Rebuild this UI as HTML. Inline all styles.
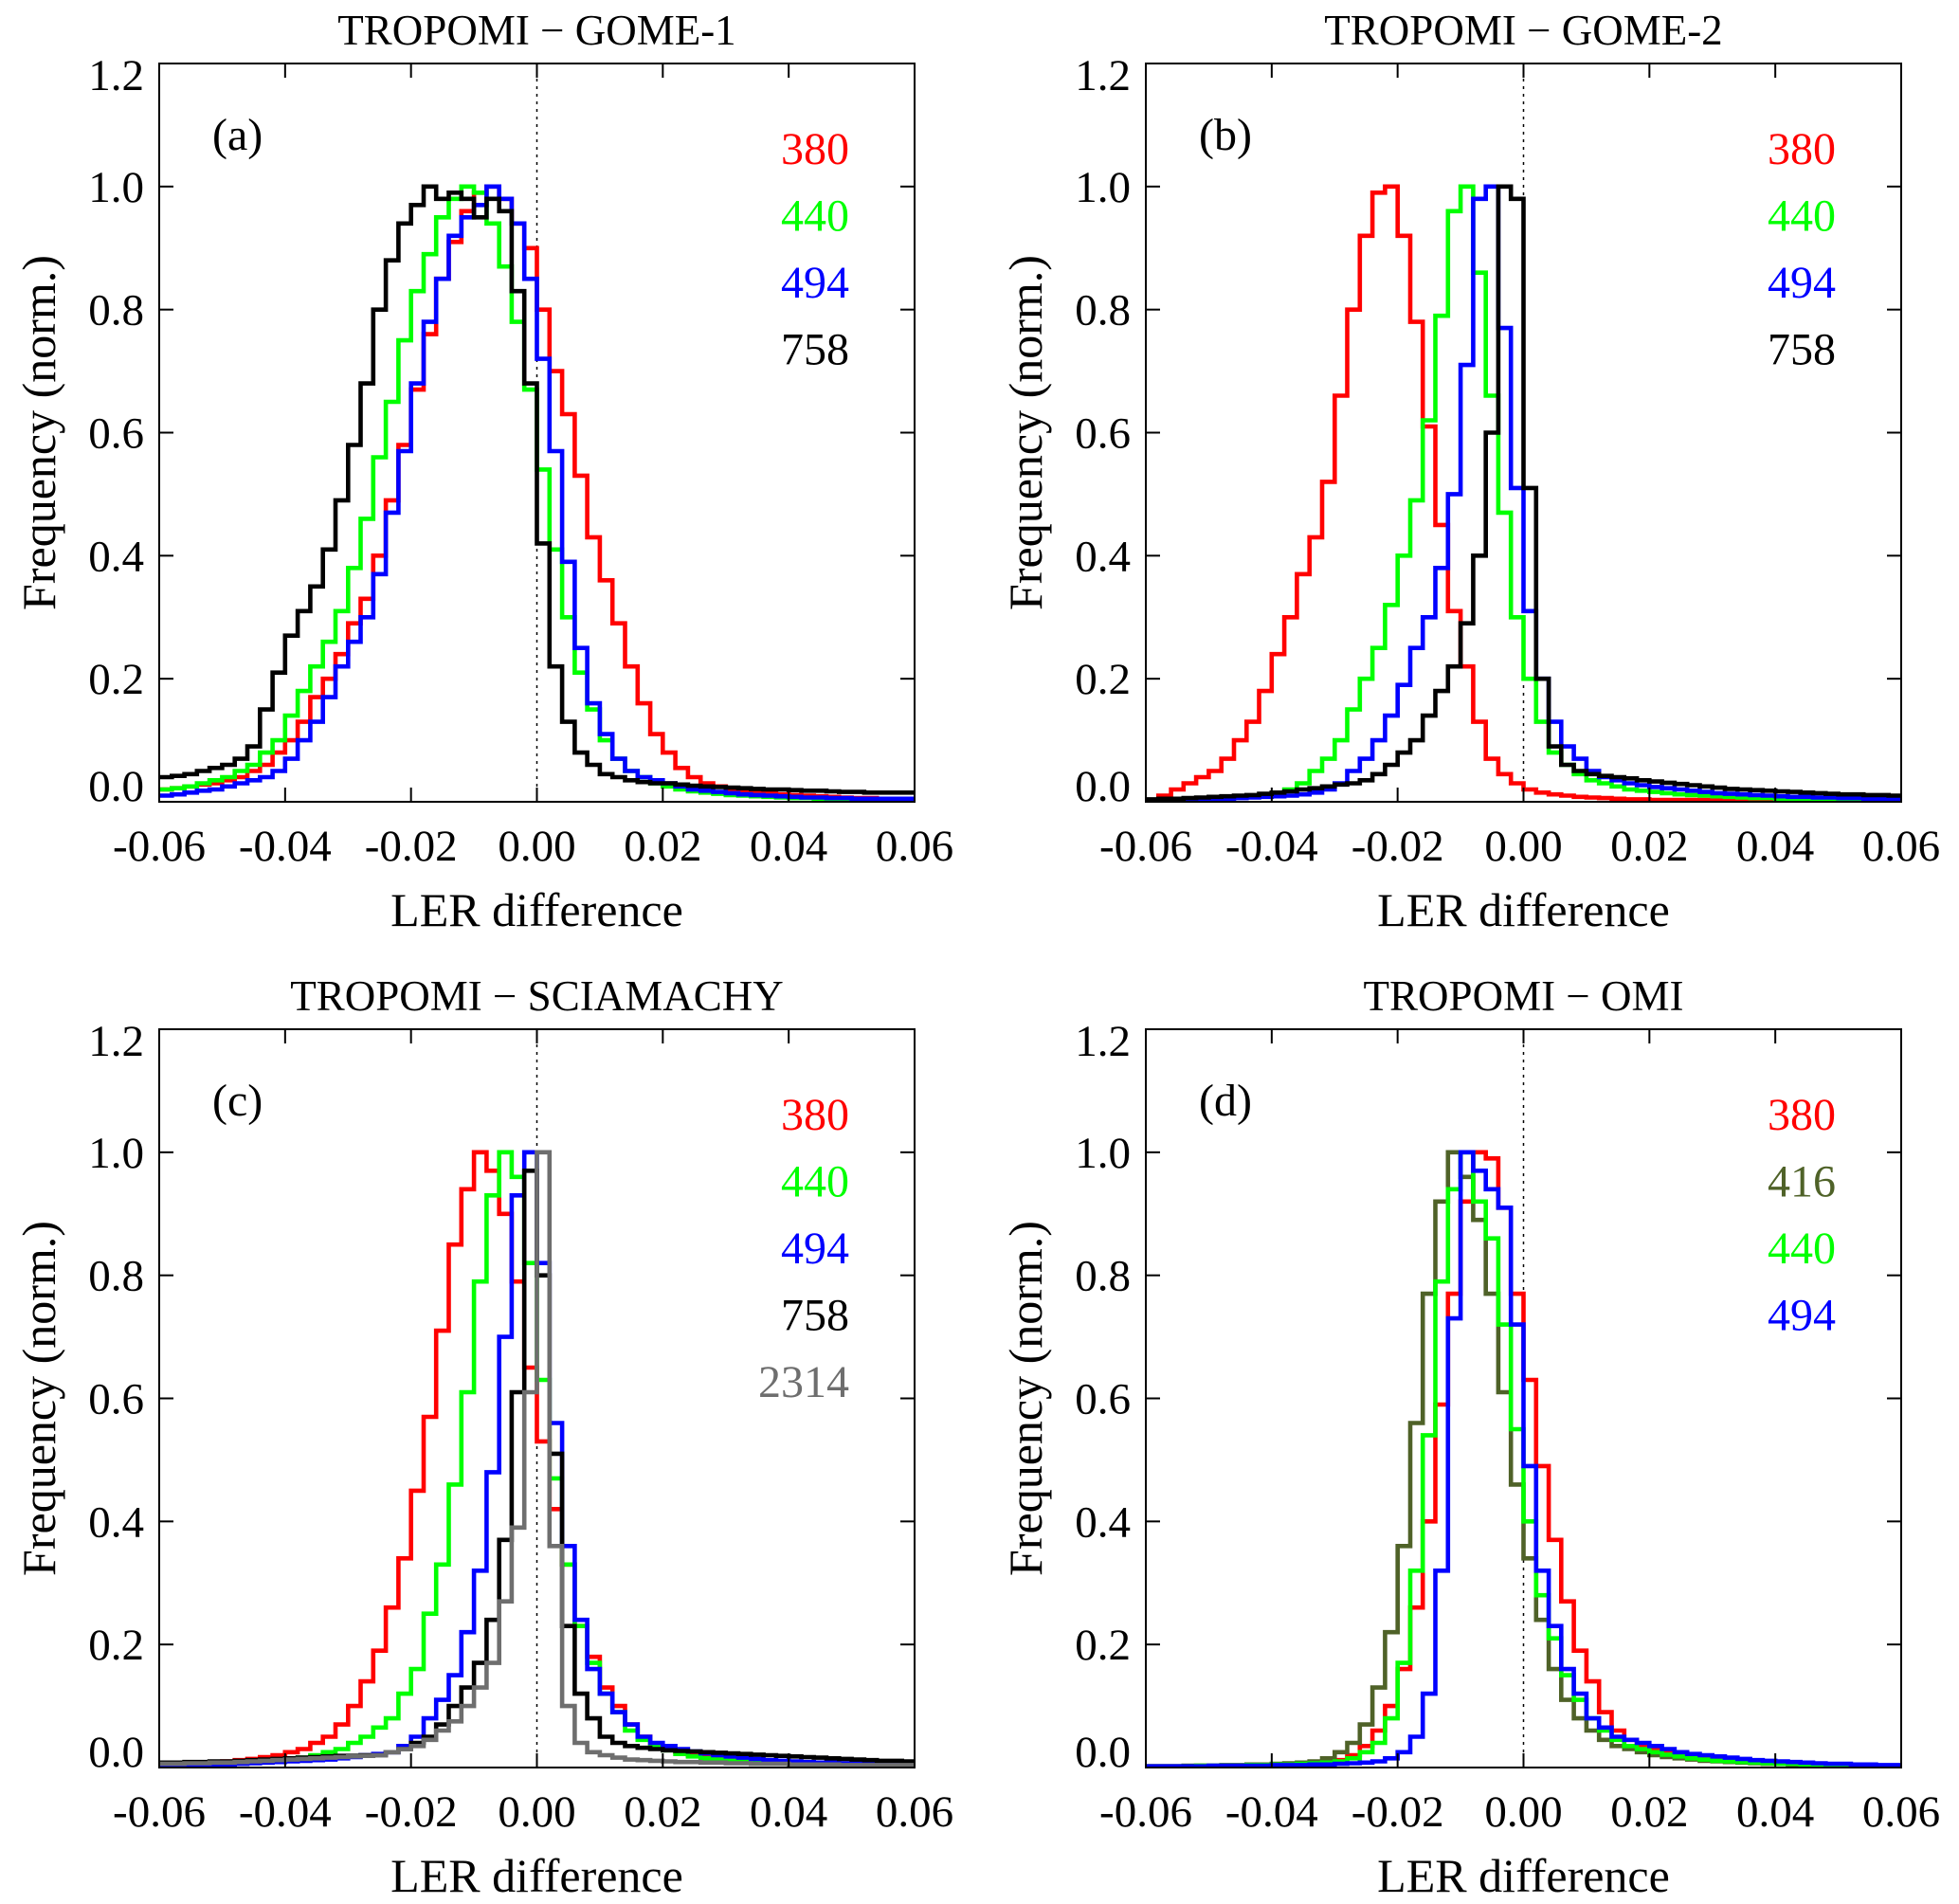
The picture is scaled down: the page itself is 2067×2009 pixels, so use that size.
<!DOCTYPE html>
<html>
<head>
<meta charset="utf-8">
<style>
  html,body{margin:0;padding:0;background:#fff;}
  svg{display:block;}
  svg text{font-family:"Liberation Serif","Times New Roman",serif;}
</style>
</head>
<body>
<svg id="fig" width="2067" height="2009" viewBox="0 0 2067 2009" font-family="Liberation Serif, serif" xmlns="http://www.w3.org/2000/svg"></svg>
<script>
// ---- data: normalized frequency per 0.002 bin from -0.06 to 0.06 (60 bins) ----
const xTicks = [-0.06,-0.04,-0.02,0.00,0.02,0.04,0.06];
const xTickLabels = ["-0.06","-0.04","-0.02","0.00","0.02","0.04","0.06"];
const yTicks = [0,0.2,0.4,0.6,0.8,1.0,1.2];
const yTickLabels = ["0.0","0.2","0.4","0.6","0.8","1.0","1.2"];
const binStart = -0.06;
const binWidth = 0.002;

const titles = ["TROPOMI \u2212 GOME-1","TROPOMI \u2212 GOME-2","TROPOMI \u2212 SCIAMACHY","TROPOMI \u2212 OMI"];
const panelTags = ["(a)","(b)","(c)","(d)"];

const aLabels = ["380","440","494","758"];
const bLabels = ["380","440","494","758"];
const cLabels = ["380","440","494","758","2314"];
const dLabels = ["380","416","440","494"];

const a380 = [0.02,0.022,0.025,0.028,0.03,0.035,0.04,0.05,0.06,0.08, 0.10,0.13,0.17,0.20,0.24,0.29,0.33,0.40,0.49,0.58, 0.67,0.76,0.85,0.91,0.96,0.99,1.0,0.98,0.94,0.90, 0.80,0.70,0.63,0.53,0.43,0.36,0.29,0.22,0.16,0.11, 0.08,0.055,0.04,0.03,0.025,0.02,0.018,0.016,0.014,0.012, 0.011,0.01,0.009,0.008,0.007,0.006,0.006,0.005,0.005,0.005];
const a440 = [0.02,0.022,0.025,0.03,0.035,0.04,0.05,0.06,0.08,0.10, 0.14,0.18,0.22,0.26,0.31,0.38,0.46,0.56,0.65,0.75, 0.83,0.89,0.95,0.98,1.0,0.99,0.94,0.87,0.78,0.67, 0.54,0.41,0.30,0.21,0.15,0.10,0.07,0.05,0.04,0.03, 0.025,0.02,0.017,0.015,0.013,0.011,0.01,0.009,0.008,0.007, 0.006,0.006,0.005,0.005,0.005,0.004,0.004,0.004,0.004,0.004];
const a494 = [0.01,0.012,0.015,0.018,0.02,0.025,0.03,0.035,0.04,0.05, 0.07,0.10,0.13,0.17,0.22,0.26,0.30,0.37,0.47,0.57, 0.68,0.78,0.85,0.92,0.95,0.97,1.0,0.98,0.94,0.85, 0.72,0.57,0.39,0.25,0.16,0.11,0.07,0.05,0.04,0.035, 0.03,0.025,0.02,0.018,0.016,0.014,0.012,0.011,0.01,0.009, 0.008,0.007,0.007,0.006,0.006,0.005,0.005,0.005,0.005,0.005];
const a758 = [0.04,0.042,0.045,0.05,0.055,0.06,0.07,0.09,0.15,0.21, 0.27,0.31,0.35,0.41,0.49,0.58,0.68,0.80,0.88,0.94, 0.97,1.0,0.98,0.99,0.98,0.95,0.98,0.96,0.83,0.68, 0.42,0.22,0.13,0.08,0.06,0.045,0.04,0.035,0.032,0.03, 0.03,0.028,0.026,0.025,0.024,0.023,0.022,0.021,0.02,0.02, 0.019,0.018,0.018,0.017,0.016,0.016,0.015,0.015,0.015,0.015];

const b380 = [0.003,0.01,0.02,0.03,0.04,0.05,0.07,0.10,0.13,0.18, 0.24,0.30,0.37,0.43,0.52,0.66,0.80,0.92,0.99,1.0, 0.92,0.78,0.61,0.45,0.31,0.22,0.13,0.07,0.045,0.03, 0.02,0.015,0.012,0.01,0.008,0.007,0.006,0.005,0.004,0.004, 0.003,0.003,0.003,0.003,0.003,0.003,0.003,0.003,0.003,0.003, 0.002,0.002,0.002,0.002,0.002,0.002,0.002,0.002,0.002,0.002];
const b440 = [0.003,0.003,0.004,0.004,0.005,0.005,0.006,0.007,0.008,0.009, 0.015,0.02,0.03,0.05,0.07,0.10,0.15,0.20,0.25,0.32, 0.40,0.49,0.62,0.79,0.96,1.0,0.86,0.66,0.47,0.30, 0.20,0.13,0.08,0.06,0.045,0.035,0.03,0.025,0.02,0.018, 0.016,0.014,0.012,0.011,0.01,0.009,0.008,0.007,0.006,0.006, 0.005,0.005,0.005,0.005,0.005,0.004,0.004,0.004,0.004,0.004];
const b494 = [0.003,0.003,0.003,0.004,0.004,0.005,0.005,0.006,0.007,0.008, 0.009,0.01,0.012,0.015,0.02,0.03,0.05,0.07,0.10,0.14, 0.19,0.25,0.30,0.38,0.50,0.71,0.98,1.0,0.77,0.51, 0.31,0.20,0.13,0.09,0.07,0.05,0.04,0.035,0.03,0.027, 0.024,0.022,0.02,0.018,0.016,0.014,0.013,0.012,0.011,0.01, 0.009,0.008,0.008,0.007,0.007,0.006,0.006,0.005,0.005,0.005];
const b758 = [0.004,0.005,0.005,0.006,0.007,0.008,0.009,0.01,0.011,0.013, 0.015,0.017,0.02,0.022,0.025,0.028,0.03,0.035,0.045,0.06, 0.08,0.10,0.14,0.18,0.22,0.29,0.40,0.60,1.0,0.98, 0.51,0.20,0.09,0.06,0.05,0.045,0.042,0.04,0.038,0.035, 0.033,0.031,0.029,0.027,0.025,0.023,0.021,0.02,0.019,0.018, 0.017,0.016,0.015,0.014,0.013,0.012,0.012,0.011,0.011,0.01];

const c380 = [0.005,0.006,0.007,0.008,0.009,0.01,0.012,0.014,0.017,0.02, 0.025,0.03,0.04,0.05,0.07,0.10,0.14,0.19,0.26,0.34, 0.45,0.57,0.71,0.85,0.94,1.0,0.97,0.90,0.79,0.65, 0.53,0.42,0.33,0.23,0.18,0.13,0.10,0.07,0.05,0.035, 0.03,0.025,0.02,0.018,0.016,0.014,0.012,0.011,0.01,0.009, 0.008,0.008,0.007,0.007,0.006,0.006,0.005,0.005,0.005,0.005];
const c440 = [0.004,0.004,0.005,0.005,0.006,0.007,0.008,0.009,0.01,0.012, 0.014,0.016,0.02,0.025,0.03,0.04,0.05,0.065,0.08,0.12, 0.16,0.25,0.33,0.46,0.61,0.79,0.93,1.0,0.96,0.82, 0.63,0.47,0.33,0.23,0.17,0.12,0.09,0.06,0.045,0.035, 0.028,0.022,0.018,0.015,0.013,0.011,0.01,0.009,0.008,0.007, 0.006,0.006,0.005,0.005,0.005,0.004,0.004,0.004,0.004,0.004];
const c494 = [0.003,0.003,0.004,0.004,0.005,0.005,0.006,0.007,0.008,0.009, 0.01,0.011,0.012,0.013,0.015,0.017,0.02,0.022,0.025,0.035, 0.05,0.08,0.11,0.15,0.22,0.32,0.48,0.70,0.93,1.0, 0.82,0.56,0.36,0.24,0.16,0.12,0.09,0.07,0.05,0.04, 0.035,0.03,0.026,0.023,0.02,0.018,0.016,0.014,0.012,0.011, 0.01,0.009,0.008,0.008,0.007,0.007,0.006,0.006,0.005,0.005];
const c758 = [0.008,0.008,0.009,0.009,0.01,0.01,0.011,0.012,0.013,0.014, 0.015,0.016,0.017,0.018,0.019,0.019,0.02,0.02,0.025,0.03, 0.04,0.05,0.07,0.10,0.13,0.17,0.24,0.37,0.61,0.97, 0.80,0.51,0.23,0.12,0.08,0.05,0.04,0.035,0.032,0.03, 0.028,0.027,0.026,0.025,0.024,0.023,0.022,0.021,0.02,0.019, 0.018,0.017,0.016,0.015,0.014,0.013,0.012,0.011,0.011,0.01];
const c2314 = [0.006,0.006,0.007,0.007,0.008,0.008,0.009,0.01,0.011,0.012, 0.013,0.014,0.015,0.016,0.017,0.018,0.019,0.02,0.025,0.03, 0.035,0.045,0.06,0.075,0.10,0.13,0.17,0.27,0.39,0.61, 1.0,0.36,0.10,0.04,0.025,0.02,0.016,0.013,0.012,0.011, 0.01,0.009,0.009,0.008,0.008,0.007,0.007,0.006,0.006,0.006, 0.005,0.005,0.005,0.005,0.004,0.004,0.004,0.004,0.004,0.004];

const d380 = [0.002,0.002,0.002,0.002,0.003,0.003,0.003,0.003,0.004,0.004, 0.004,0.005,0.005,0.006,0.008,0.012,0.02,0.035,0.06,0.10, 0.16,0.26,0.40,0.59,0.77,0.92,1.0,0.99,0.91,0.77, 0.63,0.49,0.37,0.27,0.19,0.14,0.09,0.06,0.045,0.035, 0.03,0.025,0.02,0.017,0.015,0.013,0.011,0.01,0.009,0.008, 0.007,0.006,0.006,0.005,0.005,0.004,0.004,0.004,0.003,0.003];
const d416 = [0.002,0.002,0.002,0.003,0.003,0.003,0.004,0.004,0.005,0.005, 0.006,0.007,0.008,0.01,0.015,0.025,0.04,0.07,0.13,0.22, 0.36,0.56,0.77,0.92,1.0,0.96,0.89,0.77,0.61,0.46, 0.34,0.24,0.16,0.11,0.08,0.06,0.045,0.035,0.03,0.025, 0.02,0.017,0.015,0.013,0.011,0.01,0.009,0.008,0.007,0.006, 0.006,0.005,0.005,0.004,0.004,0.004,0.003,0.003,0.003,0.003];
const d440 = [0.002,0.002,0.002,0.002,0.003,0.003,0.003,0.003,0.004,0.004, 0.005,0.005,0.006,0.007,0.008,0.01,0.015,0.025,0.04,0.08, 0.17,0.32,0.54,0.79,0.94,1.0,0.92,0.86,0.72,0.55, 0.40,0.28,0.21,0.15,0.11,0.08,0.06,0.045,0.035,0.03, 0.025,0.021,0.018,0.015,0.013,0.011,0.01,0.009,0.008,0.007, 0.006,0.006,0.005,0.005,0.004,0.004,0.004,0.003,0.003,0.003];
const d494 = [0.002,0.002,0.002,0.002,0.002,0.003,0.003,0.003,0.003,0.003, 0.004,0.004,0.004,0.005,0.005,0.006,0.007,0.008,0.01,0.015, 0.025,0.05,0.12,0.32,0.73,1.0,0.97,0.94,0.91,0.72, 0.49,0.32,0.23,0.16,0.12,0.08,0.065,0.05,0.045,0.04, 0.035,0.03,0.025,0.022,0.02,0.018,0.016,0.014,0.012,0.011, 0.01,0.009,0.008,0.007,0.006,0.006,0.005,0.005,0.004,0.004];

const panels = [
  {L:168, R:965, T:67, B:846, series:[a380,a440,a494,a758], labels:aLabels, colors:["#ff0000","#00ff00","#0000ff","#000000"]},
  {L:1209, R:2006, T:67, B:846, series:[b380,b440,b494,b758], labels:bLabels, colors:["#ff0000","#00ff00","#0000ff","#000000"]},
  {L:168, R:965, T:1086, B:1865, series:[c380,c440,c494,c758,c2314], labels:cLabels, colors:["#ff0000","#00ff00","#0000ff","#000000","#6e6e6e"]},
  {L:1209, R:2006, T:1086, B:1865, series:[d380,d416,d440,d494], labels:dLabels, colors:["#ff0000","#4f6228","#00ff00","#0000ff"]}
];
const letters = ["a","b","c","d"];

const NS = "http://www.w3.org/2000/svg";
const svg = document.getElementById("fig");
function mk(tag, attrs, parent){
  const e = document.createElementNS(NS, tag);
  for (const k in attrs) e.setAttribute(k, attrs[k]);
  (parent||svg).appendChild(e);
  return e;
}

panels.forEach((p, pi) => {
  const g = mk("g", {});
  
  
  const xS = v => p.L + (v - (-0.06)) / 0.12 * (p.R - p.L);
  const yS = v => p.B - v / 1.2 * (p.B - p.T);

  const clipId = "clip" + pi;
  const cp = mk("clipPath", {id: clipId}, g);
  mk("rect", {x:p.L, y:p.T, width:p.R-p.L, height:p.B-p.T}, cp);

  const zl = mk("line", {x1:xS(0), x2:xS(0), y1:p.T, y2:p.B, stroke:"#000", "stroke-width":1.5, "stroke-dasharray":"3,5"}, g);
  
  

  const sg = mk("g", {"clip-path":"url(#"+clipId+")"}, g);
  p.series.forEach((vals, si) => {
    let d = "";
    vals.forEach((v, i) => {
      const x0 = xS(binStart + i*binWidth), x1 = xS(binStart + (i+1)*binWidth);
      d += (i===0 ? "M" : "L") + x0.toFixed(1) + "," + yS(v).toFixed(1) + "L" + x1.toFixed(1) + "," + yS(v).toFixed(1);
    });
    const path = mk("path", {d:d, fill:"none", stroke:p.colors[si], "stroke-width":4.6, "stroke-linejoin":"miter"}, sg);
    
    
  });

  const fr = mk("rect", {x:p.L, y:p.T, width:p.R-p.L, height:p.B-p.T, fill:"none", stroke:"#000", "stroke-width":2}, g);
  
  

  xTicks.forEach((t, i) => {
    const x = xS(t);
    mk("line", {x1:x, x2:x, y1:p.B, y2:p.B-15, stroke:"#000", "stroke-width":2}, g);
    mk("line", {x1:x, x2:x, y1:p.T, y2:p.T+15, stroke:"#000", "stroke-width":2}, g);
    const tx = mk("text", {x:x, y:p.B+62, "font-size":47, "text-anchor":"middle"}, g);
    tx.textContent = xTickLabels[i];
    
    
  });
  yTicks.forEach((t, i) => {
    const y = yS(t);
    mk("line", {x1:p.L, x2:p.L+15, y1:y, y2:y, stroke:"#000", "stroke-width":2}, g);
    mk("line", {x1:p.R, x2:p.R-15, y1:y, y2:y, stroke:"#000", "stroke-width":2}, g);
    let by = y + 16;
    if (i === 0) by = y - 1;
    if (i === yTicks.length - 1) by = y + 28;
    const ty = mk("text", {x:p.L-16, y:by, "font-size":47, "text-anchor":"end"}, g);
    ty.textContent = yTickLabels[i];
    
    
  });

  const ti = mk("text", {x:(p.L+p.R)/2, y:p.T-20, "font-size":45, "text-anchor":"middle"}, g);
  ti.textContent = titles[pi];
  
  

  const xt = mk("text", {x:(p.L+p.R)/2, y:p.B+131, "font-size":50, "text-anchor":"middle"}, g);
  xt.textContent = "LER difference";
  
  

  const yc = (p.T+p.B)/2;
  const yx = p.L-110;
  const yt = mk("text", {x:yx, y:yc, "font-size":50, "text-anchor":"middle", transform:"rotate(-90 " + yx + " " + yc + ")"}, g);
  yt.textContent = "Frequency (norm.)";
  
  

  const tg = mk("text", {x:p.L+56, y:p.T+91, "font-size":48}, g);
  tg.textContent = panelTags[pi];
  
  

  p.labels.forEach((lb, si) => {
    const le = mk("text", {x:p.L+728, y:p.T+106+si*70.5, "font-size":48, "text-anchor":"end", fill:p.colors[si]}, g);
    le.textContent = lb;
    
    
  });
});
</script>
</body>
</html>
